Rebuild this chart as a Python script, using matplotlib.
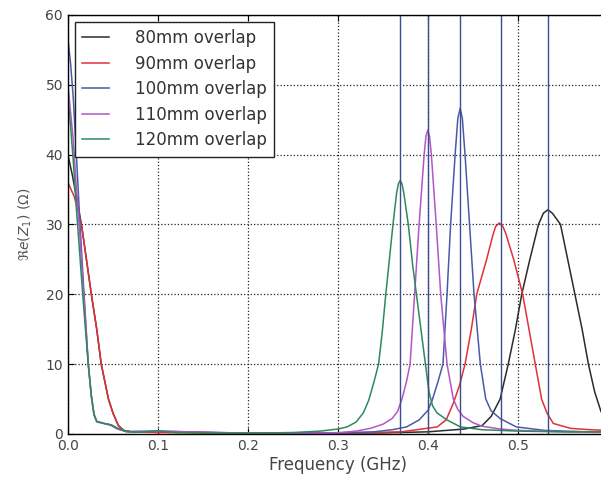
import matplotlib

matplotlib.use("Agg")
import matplotlib.pyplot as plt

# Re(Z1) vs frequency for the five overlap lengths
labels = ["80mm overlap", "90mm overlap", "100mm overlap", "110mm overlap", "120mm overlap"]
colors = ["#2b2b2b", "#e0313b", "#4a5aa8", "#b256c8", "#2e8a5c"]

f_80 = [0.0, 0.005, 0.01, 0.015, 0.02, 0.026, 0.032, 0.037, 0.045, 0.05, 0.056, 0.062, 0.07, 0.1,
        0.2, 0.35, 0.40, 0.44, 0.46, 0.47, 0.48, 0.489, 0.497, 0.504, 0.513, 0.5226, 0.528, 0.533,
        0.538, 0.547, 0.555, 0.563, 0.571, 0.578, 0.585, 0.592, 0.6]
z_80 = [40, 37, 33.5, 30, 25.5, 20, 15, 10, 5, 3, 1.2, 0.5, 0.3, 0.3,
        0.1, 0.15, 0.3, 0.7, 1.2, 2.5, 5, 10, 15, 20, 25, 30, 31.6, 32.1,
        31.6, 30, 25, 20, 15, 10, 6, 3.2, 1.8]

f_90 = [0.0, 0.007, 0.015, 0.02, 0.026, 0.032, 0.037, 0.045, 0.05, 0.056, 0.062, 0.07, 0.1,
        0.2, 0.3, 0.37, 0.41, 0.42, 0.428, 0.435, 0.441, 0.448, 0.454, 0.465, 0.472, 0.475, 0.479,
        0.483, 0.486, 0.495, 0.505, 0.512, 0.519, 0.526, 0.532, 0.539, 0.558, 0.58, 0.6]
z_90 = [36, 34, 30, 25.5, 20, 15, 10, 5, 3, 1.2, 0.5, 0.3, 0.2,
        0.1, 0.1, 0.3, 1.0, 2.0, 4.4, 7, 10, 15, 20, 25, 28.5, 29.7, 30.2,
        29.7, 28.8, 25, 20, 15, 10, 5, 3, 1.5, 0.8, 0.6, 0.5]

f_100 = [0.0, 0.003, 0.006, 0.009, 0.013, 0.017, 0.0226, 0.026, 0.029, 0.032, 0.04, 0.048, 0.055,
         0.065, 0.1, 0.2, 0.3, 0.34, 0.36, 0.376, 0.39, 0.400, 0.405, 0.411, 0.4165, 0.421, 0.425,
         0.430, 0.433, 0.4356, 0.438, 0.441, 0.446, 0.451, 0.458, 0.464, 0.47, 0.48, 0.498, 0.53,
         0.6]
z_100 = [56.5, 53, 48, 41, 31, 22, 10, 5.5, 2.8, 1.8, 1.5, 1.3, 0.8,
         0.35, 0.4, 0.1, 0.15, 0.3, 0.6, 1.0, 2.0, 3.4, 5, 7.5, 10, 20, 30,
         40, 45.2, 46.6, 45.2, 40, 30, 20, 10, 5, 3.3, 2.2, 1.0, 0.5,
         0.2]

f_110 = [0.0, 0.003, 0.006, 0.009, 0.013, 0.017, 0.0226, 0.026, 0.029, 0.032, 0.04, 0.048, 0.055,
         0.065, 0.1, 0.2, 0.28, 0.302, 0.32, 0.336, 0.35, 0.36, 0.366, 0.371, 0.376, 0.380, 0.385,
         0.390, 0.3956, 0.3976, 0.3996, 0.4016, 0.4036, 0.409, 0.414, 0.421, 0.428, 0.433, 0.439,
         0.45, 0.46, 0.48, 0.5, 0.55, 0.6]
z_110 = [50, 46, 42, 36, 29, 21, 10, 5.3, 2.7, 1.7, 1.5, 1.2, 0.7,
         0.3, 0.4, 0.1, 0.1, 0.2, 0.4, 0.8, 1.4, 2.2, 3.2, 5, 7.5, 10, 20,
         30, 40, 42.6, 43.5, 42.6, 40, 30, 20, 10, 5, 3.5, 2.5,
         1.6, 1.1, 0.7, 0.5, 0.3, 0.2]

f_120 = [0.0, 0.003, 0.006, 0.009, 0.013, 0.017, 0.0226, 0.026, 0.029, 0.032, 0.04, 0.048, 0.055,
         0.065, 0.08, 0.1, 0.12, 0.2, 0.25, 0.28, 0.30, 0.31, 0.32, 0.328, 0.334, 0.340, 0.345,
         0.349, 0.353, 0.357, 0.361, 0.365, 0.367, 0.369, 0.371, 0.373, 0.378, 0.383, 0.387, 0.392,
         0.397, 0.401, 0.405, 0.41, 0.421, 0.436, 0.46, 0.5, 0.55, 0.6]
z_120 = [48, 44, 39, 33, 26, 19, 10, 5.5, 2.8, 1.8, 1.5, 1.3, 0.8,
         0.35, 0.25, 0.45, 0.2, 0.1, 0.2, 0.4, 0.7, 1.0, 1.7, 3.0, 4.8, 7.5, 10,
         14.5, 20, 25, 30, 34.5, 35.8, 36.3, 35.8, 34.5, 30, 24, 20, 15,
         10, 6, 4.0, 3.0, 2.0, 1.0, 0.6, 0.4, 0.3, 0.3]

# resonance markers
marker_freqs = [0.369, 0.4, 0.4356, 0.481, 0.533]

series = [(f_80, z_80), (f_90, z_90), (f_100, z_100), (f_110, z_110), (f_120, z_120)]

plt.rcParams.update({
    "font.family": "DejaVu Sans",
    "xtick.direction": "in",
    "ytick.direction": "in",
    "xtick.top": True,
    "ytick.right": True,
    "axes.linewidth": 1.0,
})

fig = plt.figure(figsize=(6.01, 4.80), dpi=100)
# the original axes runs to 0.6 GHz, slightly past the right edge of the image
ax = fig.add_axes([0.113, 0.096, 0.899, 0.873])

for (f, z), label, color in zip(series, labels, colors):
    ax.plot(f, z, color=color, linewidth=1.1, label=label)

for fm in marker_freqs:
    ax.axvline(fm, color="#3b4d8f", linewidth=1.0)

ax.set_xlim(0, 0.6)
ax.set_ylim(0, 60)
ax.set_xticks([0.0, 0.1, 0.2, 0.3, 0.4, 0.5])
ax.set_yticks([0, 10, 20, 30, 40, 50, 60])
ax.tick_params(labelsize=10, labelcolor="#444444", length=4)
ax.grid(True, color="#222222", linestyle=":", linewidth=0.9)
ax.set_xlabel("Frequency (GHz)", fontsize=12, color="#444444", labelpad=2)
ax.set_ylabel(r"$\Re e(Z_1)$ ($\Omega$)", fontsize=10, color="#555555", labelpad=8)

leg = ax.legend(loc="upper left", fontsize=12, handlelength=1.6, handletextpad=1.55,
                borderaxespad=0.4, borderpad=0.45, labelspacing=0.45, fancybox=False,
                framealpha=1.0)
leg.get_frame().set_edgecolor("#222222")
leg.get_frame().set_linewidth(1.0)
for text in leg.get_texts():
    text.set_color("#333333")

fig.savefig("out.png", dpi=100)
